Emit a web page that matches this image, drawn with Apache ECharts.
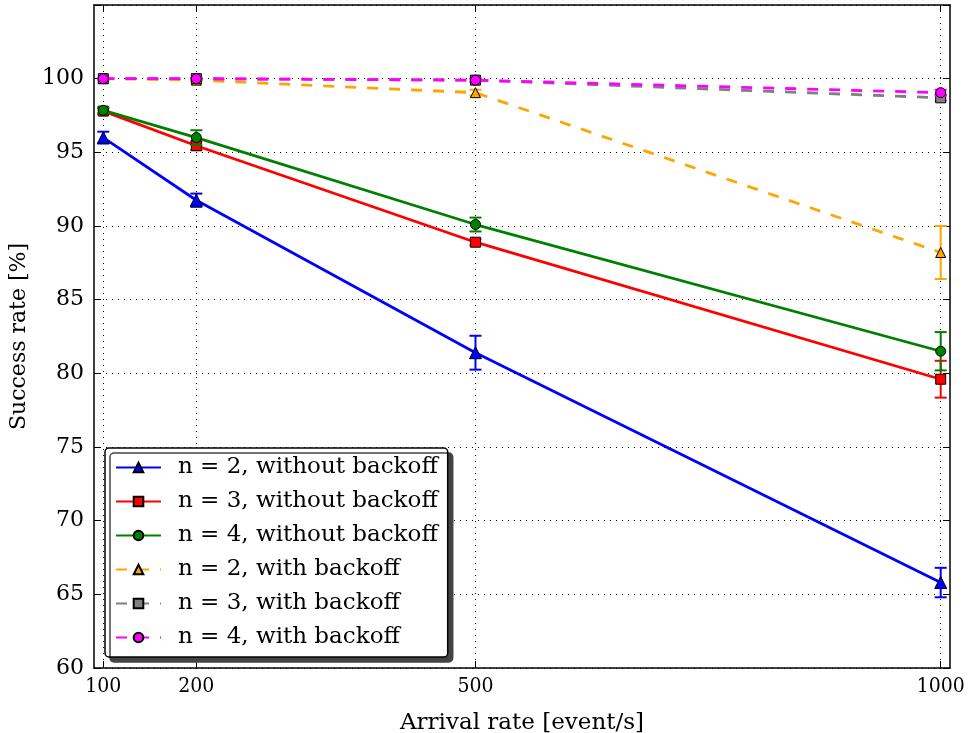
<!DOCTYPE html>
<html>
<head>
<meta charset="utf-8">
<script src="https://cdn.jsdelivr.net/npm/echarts@6/dist/echarts.min.js"></script>
<style>html,body{margin:0;padding:0;background:#fff}#c{width:971px;height:733px}</style>
</head>
<body>
<div id="c"></div>
<script>
const xValues = [100, 200, 500, 1000];
const yTicks = [60, 65, 70, 75, 80, 85, 90, 95, 100];
const seriesNames = [
  'n = 2, without backoff', 'n = 3, without backoff', 'n = 4, without backoff',
  'n = 2, with backoff', 'n = 3, with backoff', 'n = 4, with backoff'
];
const n2NoBackoff = [96.0, 91.75, 81.4, 65.8];
const n2NoBackoffErr = [0.4, 0.45, 1.15, 1.0];
const n3NoBackoff = [97.8, 95.45, 88.9, 79.6];
const n3NoBackoffErr = [0.2, 0.3, 0.2, 1.25];
const n4NoBackoff = [97.85, 96.0, 90.1, 81.5];
const n4NoBackoffErr = [0.2, 0.5, 0.47, 1.3];
const n2Backoff = [100.0, 99.9, 99.05, 88.2];
const n2BackoffErr = [0.05, 0.05, 0.2, 1.8];
const n3Backoff = [100.0, 100.0, 99.9, 98.7];
const n3BackoffErr = [0.05, 0.05, 0.1, 0.2];
const n4Backoff = [100.0, 100.0, 99.9, 99.05];
const n4BackoffErr = [0.05, 0.05, 0.1, 0.2];

const allValues = [n2NoBackoff, n3NoBackoff, n4NoBackoff, n2Backoff, n3Backoff, n4Backoff];
const allErrs = [n2NoBackoffErr, n3NoBackoffErr, n4NoBackoffErr, n2BackoffErr, n3BackoffErr, n4BackoffErr];
const colors = ['#0000ff', '#ff0000', '#008000', '#ffa500', '#808080', '#ff00ff'];
const symbols = ['triangle', 'rect', 'circle', 'triangle', 'rect', 'circle'];
const symbolSizes = [12, 10, 10, 10, 10, 10];
const dashed = [false, false, false, true, true, true];

const FONT = 'DejaVu Serif';
const chart = echarts.init(document.getElementById('c'));

const series = [];
allValues.forEach((vals, i) => {
  series.push({
    name: seriesNames[i],
    type: 'line',
    z: 3 + i * 2,
    data: vals.map((v, j) => [xValues[j], v]),
    symbol: symbols[i],
    symbolSize: symbolSizes[i],
    showAllSymbol: true,
    itemStyle: { color: colors[i], borderColor: '#000', borderWidth: 1 },
    lineStyle: { color: colors[i], width: 2.8, type: dashed[i] ? [11, 11] : 'solid' },
    emphasis: { disabled: true },
    animation: false
  });
});
allValues.forEach((vals, i) => {
  const errData = vals.map((v, j) => [xValues[j], v - allErrs[i][j], v + allErrs[i][j]]);
  series.push({
    name: seriesNames[i] + ' error',
    type: 'custom',
    z: 2 + i * 2,
    silent: true,
    data: errData,
    renderItem: function (params, api) {
      const x = api.value(0);
      const lo = api.coord([x, api.value(1)]);
      const hi = api.coord([x, api.value(2)]);
      const w = 6;
      const st = { stroke: colors[i], lineWidth: 2 };
      return {
        type: 'group',
        children: [
          { type: 'line', shape: { x1: lo[0], y1: lo[1], x2: hi[0], y2: hi[1] }, style: st },
          { type: 'line', shape: { x1: lo[0] - w, y1: lo[1], x2: lo[0] + w, y2: lo[1] }, style: st },
          { type: 'line', shape: { x1: hi[0] - w, y1: hi[1], x2: hi[0] + w, y2: hi[1] }, style: st }
        ]
      };
    }
  });
});

const option = {
  animation: false,
  grid: { left: 94, right: 21, top: 5, bottom: 65, containLabel: false, outerBoundsMode: 'none' },
  legend: {
    data: seriesNames,
    orient: 'vertical',
    left: 105,
    top: 448,
    padding: [8, 10, 8, 10],
    itemWidth: 45,
    itemHeight: 12,
    itemGap: 11,
    backgroundColor: '#fff',
    borderColor: '#000',
    borderWidth: 1.5,
    borderRadius: 4,
    shadowColor: '#444',
    shadowBlur: 0,
    shadowOffsetX: 5,
    shadowOffsetY: 5,
    textStyle: { fontFamily: FONT, fontSize: 23, color: '#000', padding: [0, 0, 0, 12] }
  },
  xAxis: [{
    type: 'value',
    min: 90,
    max: 1010,
    name: 'Arrival rate [event/s]',
    nameLocation: 'middle',
    nameGap: 44,
    nameTextStyle: { fontFamily: FONT, fontSize: 23, color: '#000' },
    axisLine: { show: true, lineStyle: { color: '#000', width: 1.5 } },
    axisTick: { show: true, inside: true, length: 7, customValues: xValues, lineStyle: { color: '#000' } },
    axisLabel: {
      customValues: xValues, fontFamily: 'DejaVu Serif Condensed, DejaVu Serif', fontSize: 21, color: '#000', margin: 8,
      formatter: v => String(v)
    },
    splitLine: { show: true, lineStyle: { color: '#000', type: [1, 5], width: 1 } }
  }, {
    type: 'value',
    position: 'top',
    min: 90,
    max: 1010,
    axisLine: { show: true, lineStyle: { color: '#000', width: 1.5 } },
    axisTick: { show: true, inside: true, length: 7, customValues: xValues, lineStyle: { color: '#000' } },
    axisLabel: { show: false },
    splitLine: { show: false }
  }],
  yAxis: [{
    type: 'value',
    min: 60,
    max: 105,
    interval: 5,
    name: 'Success rate [%]',
    nameLocation: 'middle',
    nameGap: 64,
    nameTextStyle: { fontFamily: FONT, fontSize: 22, color: '#000' },
    axisLine: { show: true, lineStyle: { color: '#000', width: 1.5 } },
    axisTick: { show: true, inside: true, length: 7, lineStyle: { color: '#000' } },
    axisLabel: {
      fontFamily: FONT, fontSize: 22, color: '#000', margin: 10,
      formatter: v => (yTicks.indexOf(v) >= 0 ? String(v) : '')
    },
    splitLine: { show: true, lineStyle: { color: '#000', type: [1, 5], width: 1 } }
  }, {
    type: 'value',
    position: 'right',
    min: 60,
    max: 105,
    interval: 5,
    axisLine: { show: true, lineStyle: { color: '#000', width: 1.5 } },
    axisTick: { show: true, inside: true, length: 7, lineStyle: { color: '#000' } },
    axisLabel: { show: false },
    splitLine: { show: false }
  }],
  series: series
};
chart.setOption(option);
</script>
</body>
</html>
